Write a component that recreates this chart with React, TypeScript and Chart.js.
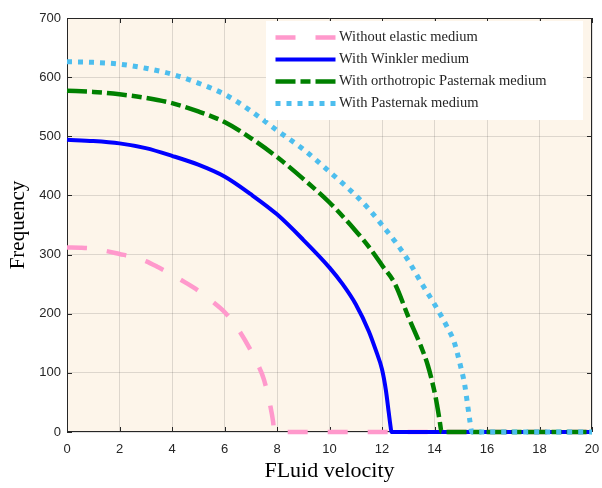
import { useEffect, useRef } from 'react';
import { Chart, registerables } from 'chart.js';

Chart.register(...registerables);

// ---- data ----
const seriesLabels = [
  'Without elastic medium',
  'With Winkler medium',
  'With orthotropic Pasternak medium',
  'With Pasternak medium',
];

const pinkU = [0, 0.5, 1, 1.5, 2, 2.5, 3, 3.5, 4, 4.5, 5, 5.5, 6, 6.5, 7, 7.25, 7.5, 7.75, 7.85, 7.9, 20];
const pinkF = [312, 311.5, 310, 306, 301, 296, 289, 278, 266, 253, 239, 222, 203, 175, 138, 116, 89, 43, 18, 0, 0];

const blueU = [0, 1, 2, 3, 4, 5, 6, 7, 8, 9, 10, 10.5, 11, 11.5, 11.75, 12, 12.15, 12.26, 12.33, 12.36, 20];
const blueF = [494, 492, 488, 480, 467, 452, 432, 402, 368, 325, 278, 250, 216, 170, 140, 106, 70, 32, 8, 0, 0];

const greenU = [0, 1, 2, 3, 4, 5, 6, 7, 8, 9, 10, 11, 11.5, 12, 12.5, 13, 13.5, 13.75, 14, 14.1, 14.2, 14.27, 20];
const greenF = [577, 575, 571, 565, 556, 542, 524, 497, 465, 428, 388, 340, 313, 282, 250, 195, 143, 112, 68, 45, 18, 0, 0];

const cyanU = [0, 1, 2, 3, 4, 5, 6, 7, 8, 9, 10, 11, 11.5, 12, 12.5, 13, 13.5, 14, 14.5, 14.75, 15, 15.15, 15.27, 15.35, 15.42, 20];
const cyanF = [626, 625, 622, 615, 605, 590, 571, 543, 510, 478, 440, 400, 377, 350, 322, 290, 252, 216, 176, 152, 110, 80, 43, 18, 0, 0];

const xMin = 0;
const xMax = 20;
const xStep = 2;
const yMin = 0;
const yMax = 700;
const yStep = 100;

const xTitle = 'FLuid velocity';
const yTitle = 'Frequency';

// ---- styles ----
const colors = ['#FF99CC', '#0000FF', '#008000', '#4DBEEE'];
const widths = [4.5, 4, 4.5, 5];
const dashes: number[][] = [[20, 20], [], [20, 5, 10, 5], [5, 6]];
const orders = [4, 3, 2, 1];

const AXIS_COLOR = '#262626';
const GRID_COLOR = 'rgba(38,38,38,0.15)';
const PLOT_BG = '#FDF5EA';

const toPts = (u: number[], f: number[]) => u.map((x, i) => ({ x, y: f[i] }));

const backgroundPlugin = {
  id: 'plotBg',
  beforeDraw(chart: any) {
    const { ctx, chartArea } = chart;
    ctx.save();
    ctx.fillStyle = PLOT_BG;
    ctx.fillRect(chartArea.left, chartArea.top, chartArea.right - chartArea.left, chartArea.bottom - chartArea.top);
    ctx.restore();
  },
};

const framePlugin = {
  id: 'frame',
  beforeDatasetsDraw(chart: any) {
    const { ctx, chartArea, scales } = chart;
    const { left, right, top, bottom } = chartArea;
    const tl = 5;
    ctx.save();
    ctx.strokeStyle = AXIS_COLOR;
    ctx.lineWidth = 1;
    ctx.beginPath();
    ctx.rect(left + 0.5, top + 0.5, right - left - 1, bottom - top - 1);
    ctx.stroke();
    ctx.beginPath();
    scales.x.ticks.forEach((t: any) => {
      const px = Math.round(scales.x.getPixelForValue(t.value)) + 0.5;
      ctx.moveTo(px, bottom);
      ctx.lineTo(px, bottom - tl);
      ctx.moveTo(px, top);
      ctx.lineTo(px, top + tl);
    });
    scales.y.ticks.forEach((t: any) => {
      const py = Math.round(scales.y.getPixelForValue(t.value)) + 0.5;
      ctx.moveTo(left, py);
      ctx.lineTo(left + tl, py);
      ctx.moveTo(right, py);
      ctx.lineTo(right - tl, py);
    });
    ctx.stroke();
    ctx.restore();
  },
};

const legendPlugin = {
  id: 'matlabLegend',
  afterDraw(chart: any) {
    const { ctx, chartArea } = chart;
    const datasets = chart.data.datasets;
    const boxRight = chartArea.right - 9;
    const boxLeft = boxRight - 317;
    const boxTop = chartArea.top + 3;
    const boxH = 99;
    const rowH = 22;
    ctx.save();
    ctx.fillStyle = '#FFFFFF';
    ctx.fillRect(boxLeft, boxTop, boxRight - boxLeft, boxH);
    ctx.font = '14.5px "Liberation Serif", "Times New Roman", serif';
    ctx.textBaseline = 'middle';
    ctx.textAlign = 'left';
    datasets.forEach((ds: any, i: number) => {
      const cy = boxTop + 16.5 + i * rowH;
      ctx.save();
      ctx.strokeStyle = ds.borderColor;
      ctx.lineWidth = ds.borderWidth;
      ctx.lineCap = 'butt';
      ctx.setLineDash(ds.borderDash || []);
      ctx.beginPath();
      ctx.moveTo(boxLeft + 9.5, cy);
      ctx.lineTo(boxLeft + 69.5, cy);
      ctx.stroke();
      ctx.restore();
      ctx.fillStyle = AXIS_COLOR;
      ctx.fillText(ds.label, boxLeft + 73, cy);
    });
    ctx.restore();
  },
};

export default function App() {
  const canvasRef = useRef<HTMLCanvasElement | null>(null);

  useEffect(() => {
    const canvas = canvasRef.current;
    if (!canvas) return;
    const seriesU = [pinkU, blueU, greenU, cyanU];
    const seriesF = [pinkF, blueF, greenF, cyanF];
    const chart = new Chart(canvas, {
      type: 'line',
      data: {
        datasets: seriesLabels.map((label, i) => ({
          label,
          data: toPts(seriesU[i], seriesF[i]),
          borderColor: colors[i],
          backgroundColor: colors[i],
          borderWidth: widths[i],
          borderDash: dashes[i],
          borderCapStyle: 'butt' as const,
          borderJoinStyle: 'round' as const,
          pointRadius: 0,
          pointHoverRadius: 0,
          fill: false,
          cubicInterpolationMode: 'monotone' as const,
          clip: 6,
          order: orders[i],
        })),
      },
      options: {
        responsive: false,
        animation: false,
        events: [],
        layout: { padding: { top: 18, right: 10, left: 0, bottom: 0 } },
        plugins: {
          legend: { display: false },
          tooltip: { enabled: false },
        },
        scales: {
          x: {
            type: 'linear',
            min: xMin,
            max: xMax,
            ticks: {
              stepSize: xStep,
              padding: 10,
              color: AXIS_COLOR,
              font: { family: '"Liberation Sans", Arial, sans-serif', size: 13 },
              maxRotation: 0,
              autoSkip: false,
            },
            grid: { color: GRID_COLOR, drawTicks: false, lineWidth: 1 },
            border: { display: false },
            title: {
              display: true,
              text: xTitle,
              color: '#000000',
              font: { family: '"Liberation Serif", "Times New Roman", serif', size: 22 },
              padding: { top: 0, bottom: 4 },
            },
            afterFit(scale: any) {
              scale.height = 56;
              scale.paddingLeft = 0;
              scale.paddingRight = 8;
            },
          },
          y: {
            type: 'linear',
            min: yMin,
            max: yMax,
            ticks: {
              stepSize: yStep,
              padding: 6,
              color: AXIS_COLOR,
              font: { family: '"Liberation Sans", Arial, sans-serif', size: 13 },
            },
            grid: { color: GRID_COLOR, drawTicks: false, lineWidth: 1 },
            border: { display: false },
            title: {
              display: true,
              text: yTitle,
              color: '#000000',
              font: { family: '"Liberation Serif", "Times New Roman", serif', size: 21 },
              padding: { top: 6, bottom: 0 },
            },
            afterFit(scale: any) {
              scale.width = 67;
              scale.paddingTop = 0;
              scale.paddingBottom = 0;
            },
          },
        },
      },
      plugins: [backgroundPlugin, framePlugin, legendPlugin],
    });
    return () => chart.destroy();
  }, []);

  return (
    <div style={{ position: 'fixed', left: 0, top: 0, width: 602, height: 488, background: '#FFFFFF' }}>
      <canvas ref={canvasRef} width={602} height={488} />
    </div>
  );
}
